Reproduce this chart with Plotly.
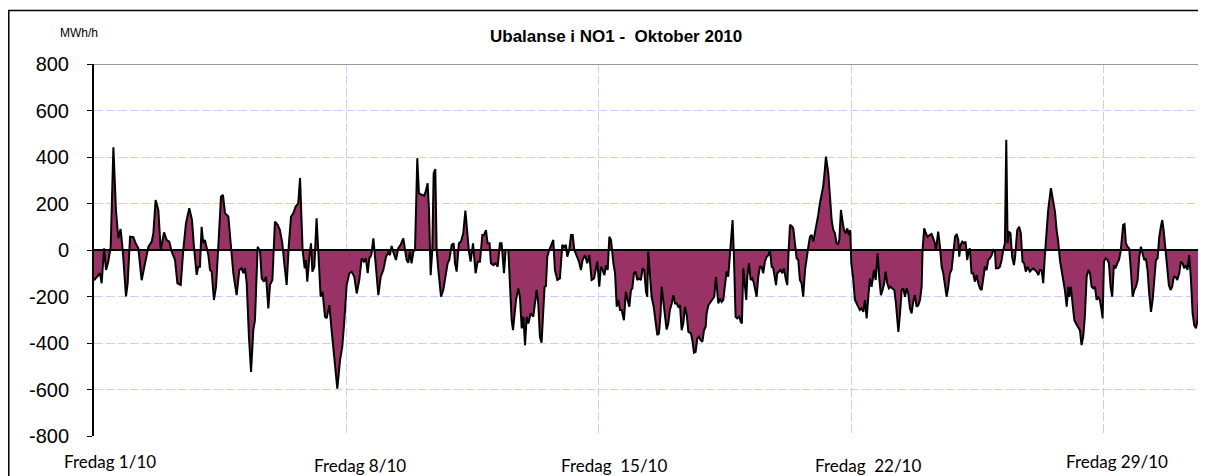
import plotly.graph_objects as go

# Hour of month (0 = Friday 1/10 00:00) and hourly imbalance in NO1 (MWh/h)
hours = [
    0, 1.8, 4.0, 5.1, 6.7, 8.0, 9.5, 11.1, 12.9, 14.6, 16.2, 17.7, 19.1, 21.3, 22.4, 24.0, 26.2, 27.7, 29.5, 31.7,
    33.9, 36.2, 38.4, 39.5, 41.0, 42.8, 44.4, 46.6, 48.4, 50.1, 51.7, 53.9, 55.5, 57.7, 59.4, 61.2, 63.4, 65.2, 66.5,
    68.3, 69.4, 70.5, 71.6, 72.7, 73.8, 75.0, 76.1, 77.2, 78.3, 79.8, 81.2, 82.7, 84.5, 85.8, 87.2, 89.4, 91.1, 92.7,
    94.9, 96.7, 98.2, 99.4, 100.5, 101.6, 103.1, 104.5, 106.0, 107.1, 108.9, 110.5, 111.6, 113.1, 114.5, 116.0, 117.1,
    118.7, 120.4, 122.2, 123.7, 125.3, 126.6, 128.2, 129.7, 131.1, 132.6, 134.2, 135.9, 137.1,
    138.8, 140.2, 141.0, 141.9, 143.3, 144.4, 145.3, 146.6, 148.1, 149.2, 150.8, 152.1, 153.7, 154.8, 156.6, 158.1,
    159.9, 161.9, 163.7, 165.2, 166.6, 168.1, 169.9, 171.4, 173.2, 174.8, 176.5, 178.1, 179.6, 180.9, 182.1, 183.2,
    184.5, 185.9, 187.0, 188.1, 189.2, 190.8, 192.5, 194.3, 195.8, 196.9, 198.0, 199.1, 200.9, 202.4, 204.0, 205.8,
    208.0, 209.1, 210.2, 211.3, 212.5, 213.6, 215.1, 216.2, 218.0, 219.6, 220.7, 222.0, 222.9, 224.0, 225.1, 226.0,
    227.1, 228.0, 229.1, 230.9, 232.4, 234.0, 235.3, 236.4, 238.0, 239.3, 240.2, 241.3, 242.8, 244.2, 245.7, 247.1,
    248.2, 249.5, 250.6, 252.2, 253.9, 255.3, 256.8, 258.4, 259.5, 260.8, 261.9, 263.2, 264.1, 265.7, 267.2, 268.6,
    270.1, 271.2, 272.8, 273.9, 275.7, 276.8, 277.9, 278.8,
    280.8, 282.3, 283.4, 284.6, 285.7, 286.8, 287.9, 289.0, 290.5, 292.3, 293.4, 294.5, 295.6, 296.7, 297.8, 298.9,
    299.8, 300.7, 301.6, 302.9, 304.5, 305.6, 306.7, 308.3, 310.0, 311.6, 312.9, 314.0, 314.9, 316.2, 317.4, 318.5,
    319.6, 321.1, 322.7, 324.0, 325.1, 326.7, 328.2, 329.6, 331.1, 332.7, 334.0, 334.9, 336.2, 337.3, 338.4, 339.6,
    340.7, 341.8, 342.9, 344.0, 345.6, 346.7,
    347.8, 348.9, 350.0, 351.1, 352.6, 353.9, 355.1, 356.2, 357.3, 358.2, 359.3, 360.4, 361.5, 362.6, 363.9, 365.0,
    366.1, 367.3, 368.1, 368.8, 369.7, 371.0, 372.4, 373.2, 374.8, 375.9, 377.0, 377.7, 378.8, 379.9, 381.0, 382.1,
    383.2, 384.4, 385.5, 386.6, 387.7, 388.8, 389.9, 391.0, 392.1, 393.2, 394.4, 395.5, 397.2, 398.3, 399.2, 400.3,
    401.4, 402.5, 403.6, 404.8, 405.9, 407.0, 407.6, 408.8, 410.3, 411.4, 412.7, 413.8, 415.4, 416.5, 417.6, 418.7,
    419.8, 420.9, 422.0, 423.1, 424.9, 425.8, 426.9, 428.0, 429.4, 430.3, 431.1, 432.0, 432.9, 434.0, 434.7, 435.8,
    436.9, 438.0, 439.1, 440.9, 442.0, 443.1, 444.2, 445.3, 446.4, 447.6, 448.7, 449.8, 450.9, 452.0, 453.1, 453.8,
    454.6, 455.7, 456.9, 458.0, 459.1, 460.4, 461.3, 462.2, 463.1, 464.2, 465.3, 466.4, 467.5, 468.6, 469.7, 470.8,
    471.9, 473.1, 474.2, 475.3, 476.4, 477.5, 478.6, 479.7, 480.8, 481.9, 483.0, 484.1, 485.2, 486.3, 487.0,
    488.6, 489.7, 490.8, 491.9, 493.0, 494.1, 495.2, 495.9, 497.0, 498.1, 499.0, 500.1, 501.2, 502.3, 503.2, 503.9,
    505.0, 506.3, 507.4, 508.5, 509.6, 510.7, 511.9, 513.0, 514.1, 515.2, 516.3, 517.4, 519.0, 520.1, 521.4, 522.5,
    523.6, 524.7, 525.8, 526.7, 527.8, 528.9, 530.0, 531.1, 532.5, 533.6, 535.2, 536.3, 537.4, 538.5, 539.6, 540.7,
    541.8, 542.9, 544.0, 545.1, 546.2, 547.3, 548.5, 549.6, 550.7, 551.3, 552.4, 553.5, 554.6,
    556.2, 557.3, 558.4, 559.5, 560.2, 561.7, 562.9, 564.0, 565.1, 566.2, 567.3, 568.4, 569.5, 570.6, 571.7, 572.9,
    574.0, 575.1, 575.7, 576.6, 577.7, 578.8, 579.9, 581.0, 582.2, 582.8, 583.9, 585.0, 586.1, 587.3, 588.4, 589.5,
    590.6, 591.7, 592.8, 593.9, 595.0, 596.1, 597.3, 598.4, 599.5, 600.1, 601.7, 602.8, 603.9, 605.0, 606.1, 607.0,
    607.9, 608.7, 609.8, 610.9, 612.1, 612.9, 614.3, 615.6, 616.7, 617.8, 618.9, 620.0, 621.1, 622.7, 623.8, 624.9,
    626.1, 627.2, 628.3, 629.4, 630.5, 631.6, 632.7, 633.8, 634.9, 636.7, 638.3, 639.4, 640.5, 641.6, 642.7, 643.8,
    644.9, 646.0, 647.2, 648.3, 648.9, 650.0, 651.1, 652.3, 653.4, 654.9, 656.0, 657.1, 658.2, 659.3, 660.5, 661.6,
    662.7, 663.8, 664.9, 666.0, 667.1, 668.2, 669.3, 670.4, 671.1, 672.0, 673.1, 674.4, 675.3, 676.4, 677.5, 678.6,
    679.7, 680.9, 682.0, 683.1,
    684.8, 685.7, 686.6, 687.7, 688.8, 689.9, 691.1, 692.2, 693.3, 694.4, 695.5, 696.6, 697.7, 698.8, 699.9, 701.0,
    702.1, 703.3, 704.4, 705.5, 706.6, 707.7, 708.8, 709.9, 710.8, 711.7, 712.8, 714.1, 715.2, 716.3, 717.4, 718.5,
    719.6, 720.8, 722.1, 723.2, 724.3, 725.4, 726.5, 727.6, 728.7, 729.9, 731.0, 732.1, 733.2, 734.3, 735.4, 736.5,
    737.6, 738.7, 739.8,
]

imbalance = [
    -130, -115, -100, -143, 7, -86, -50, 14, 442, 172, 50, 90, 0, -200, -143, 57, 55, 29, 7, -130,
    -57, 14, 36, 72, 215, 172, 0, 76, 43, 36, -7, -43, -143, -150, 0, 115, 180, 129, 14,
    -107, -72, -72, 100, 29, 43, 0, -22, -86, -93, -215, -158, 14, 230, 237, 158, 144, 14, -100,
    -194, -86, -79, -100, -79, -143, -373, -524, -345, -302, 14, -7, -122, -136, -115, -251, -150,
    -129, 122, 108, 86, 29, -57, -150, 29, 144, 158, 187, 201, 309,
    0, -79, -43, -136, -29, 29, -93, -72, 136, 0, -201, -180, -287, -294, -237, -345,
    -460, -596, -474, -416, -302, -151, -100, -93, -115, -187, -129, -36, -50, -36, -100, -36,
    -22, 50, -29, -115, -194, -115, -86, -29, -11, -22, 17, -7, -43, 7, 22, 50,
    -43, -55, -7, -57, -7, 0, 395, 244, 237, 233, 251, 287, 172, -108, 0, 330,
    348, 0, -86, -201, -172, -115, -57, -43, 22, 29, -57, -93, 29, 36, 72, 169,
    72, -7, -50, 29, -100, -50, -50, 65, 65, 86, 29, 29, -57, -65, -57, -72,
    29, 29, -100, 0, 0, -143, -302, -345,
    -215, -165, -201, -337, -287, -409, -287, -316, -273, -287, -230, -172, -230, -373, -399, -258,
    -158, -155, -29, 0, 29, 43, -86, -129, -122, 22, 14, 22, -29, 0, 65, 65,
    0, -29, -50, -86, -43, -22, -57, -22, -129, -122, -72, -50, -158, -72, -86, -108,
    -65, -86, 57, 43, -57, -100,
    -244, -215, -258, -258, -302, -180, -215, -244, -172, -165, -100, -93, -129, -122, -129, -79,
    -86, -180, -201, -7, -86, -201, -244, -294, -366, -359, -273, -158, -230, -294, -342, -316,
    -258, -230, -194, -230, -230, -244, -237, -345, -316, -244, -280, -352, -359, -395, -442, -438,
    -381, -373, -388, -395, -345, -330, -273, -237, -223, -215, -201, -115, -230, -208, -223, -215,
    -158, -93, -115, -29, 129, -29, -287, -294, -287, -309, -316, -79, -143, -215, -115, -57,
    -129, -122, -143, -201, -115, -72, -72, -100, -50, -29, -22, 0, -72, -79, -122, -151,
    -100, -93, -86, -100, -79, -129, -151, 0, 108, 103, 93, 29, -36, -43, -129, -143,
    -201, -86, -22, 14, 57, 65, 36, 72, 115, 151, 201, 237, 273, 345, 402,
    330, 230, 129, 86, 72, 29, 26, 43, 172, 122, 86, 72, 93, 65, 86, -57,
    -115, -215, -230, -244, -258, -251, -266, -215, -294, -201, -122, -158, -86, -129, -14, -122,
    -194, -172, -143, -93, -143, -165, -158, -165, -172, -230, -352, -273, -172, -165, -201, -165,
    -187, -251, -273, -223, -194, -244, -237, -215, -158, 0, 93, 72, 57,
    65, 69, 50, 29, 0, 79, 14, -72, -100, -158, -201, -158, -100, -86, 0, 57,
    69, 43, -29, 22, 36, 29, 36, -43, 0, 7, -100, -100, -136, -108, -143, -165,
    -172, -115, -72, -86, -43, -36, -22, 0, -7, -79, -79, -72, -43, 0, 29, 474,
    29, 79, 72, -29, -65, -29, 86, 100, 72, -50, -57, -93, -72, -93, -86, -79,
    -86, -93, -108, -86, -86, -143, -22, 86, 172, 266, 201, 165, 86, 36, -43, -86,
    -115, -172, -244, -158, -201, -158, -230, -302, -316, -330, -345, -409, -373, -287, -115, -86,
    -100, -158, -165, -158, -215, -201, -215, -258, -294, -50, -36, -43, -57, -158, -201, -65,
    -79, -57, -43, -7,
    108, 111, 29, 14, 7, -86, -201, -172, -158, -129, -29, 14, -14, -43, -36, -86,
    -187, -266, -215, -115, -43, -36, 57, 101, 129, 86, 0, -100, -151, -172, -158, -115,
    -115, -129, -100, -50, -57, -79, -65, -86, -22, -129, -273, -323, -337, -302, -187, -79,
    -100, -165, -208,
]

week_hours = [0, 168, 336, 504, 672]
day_labels = ["Fredag 1/10", "Fredag 8/10", "Fredag\u00a0 15/10", "Fredag\u00a0 22/10", "Fredag 29/10"]
y_ticks = [-800, -600, -400, -200, 0, 200, 400, 600, 800]

# The page adds an 8 px body margin, so the figure is drawn 8 px in from the window edge.
OFF = 8
W, H = 1206 - OFF, 476 - OFF
L, R, T, B = 86, 0, 56, 40
pw, ph = W - L - R, H - T - B


def px(xp):  # window pixel -> paper x
    return (xp - OFF - L) / pw


def py(yp):  # window pixel -> paper y
    return (H - B - (yp - OFF)) / ph


FONT = "Arial, Liberation Sans, sans-serif"

fig = go.Figure()
fig.add_trace(go.Scatter(
    x=hours, y=imbalance, mode="lines",
    line=dict(color="black", width=2),
    fill="tozeroy", fillcolor="#993366",
    hoverinfo="skip", showlegend=False,
))

fig.update_layout(
    width=W, height=H,
    margin=dict(l=L, r=R, t=T, b=B),
    paper_bgcolor="white", plot_bgcolor="white",
    font=dict(family=FONT, color="black"),
    xaxis=dict(
        range=[0, 739.9], tickvals=week_hours, showticklabels=False,
        showgrid=True, gridcolor="#ccccff", griddash="9px,3px", gridwidth=1,
        zeroline=False, showline=False, ticks="",
    ),
    yaxis=dict(
        range=[-800, 800], tickvals=y_ticks, ticktext=[str(v) for v in y_ticks],
        showgrid=True, gridcolor="#ccccff", griddash="9px,3px", gridwidth=1,
        zeroline=False, showline=True, linecolor="black", linewidth=2,
        ticks="outside", ticklen=5, tickcolor="black", tickwidth=1,
        ticklabelstandoff=14,
        tickfont=dict(size=20, family=FONT),
    ),
)

shapes = [
    dict(type="line", xref="paper", yref="y", x0=0, x1=1, y0=0, y1=0,
         line=dict(color="black", width=2), layer="above"),
    dict(type="line", xref="paper", yref="y", x0=0, x1=1, y0=800, y1=800,
         line=dict(color="#999999", width=2), layer="above"),
    dict(type="rect", xref="paper", yref="paper", x0=px(8.8), x1=px(1240), y0=py(520), y1=py(10.5),
         line=dict(color="black", width=1.5), layer="above"),
]
fig.update_layout(shapes=shapes)

annotations = [
    dict(text="<b>Ubalanse i NO1 -  Oktober 2010</b>", xref="paper", yref="paper",
         x=px(616), y=py(36), showarrow=False, font=dict(size=17, family=FONT),
         xanchor="center", yanchor="middle"),
    dict(text="MWh/h", xref="paper", yref="paper", x=px(58), y=py(33), showarrow=False,
         font=dict(size=12, family=FONT), xanchor="left", yanchor="middle"),
]
label_pos = [(110, 461), (360, 465), (614, 465), (868, 465), (1117, 461)]
for lab, (lx, ly) in zip(day_labels, label_pos):
    annotations.append(dict(text=lab, xref="paper", yref="paper", x=px(lx), y=py(ly), showarrow=False,
                            font=dict(size=17, family="Lato, Open Sans, sans-serif"),
                            xanchor="center", yanchor="middle"))
fig.update_layout(annotations=annotations)

fig.write_html("out.html")
